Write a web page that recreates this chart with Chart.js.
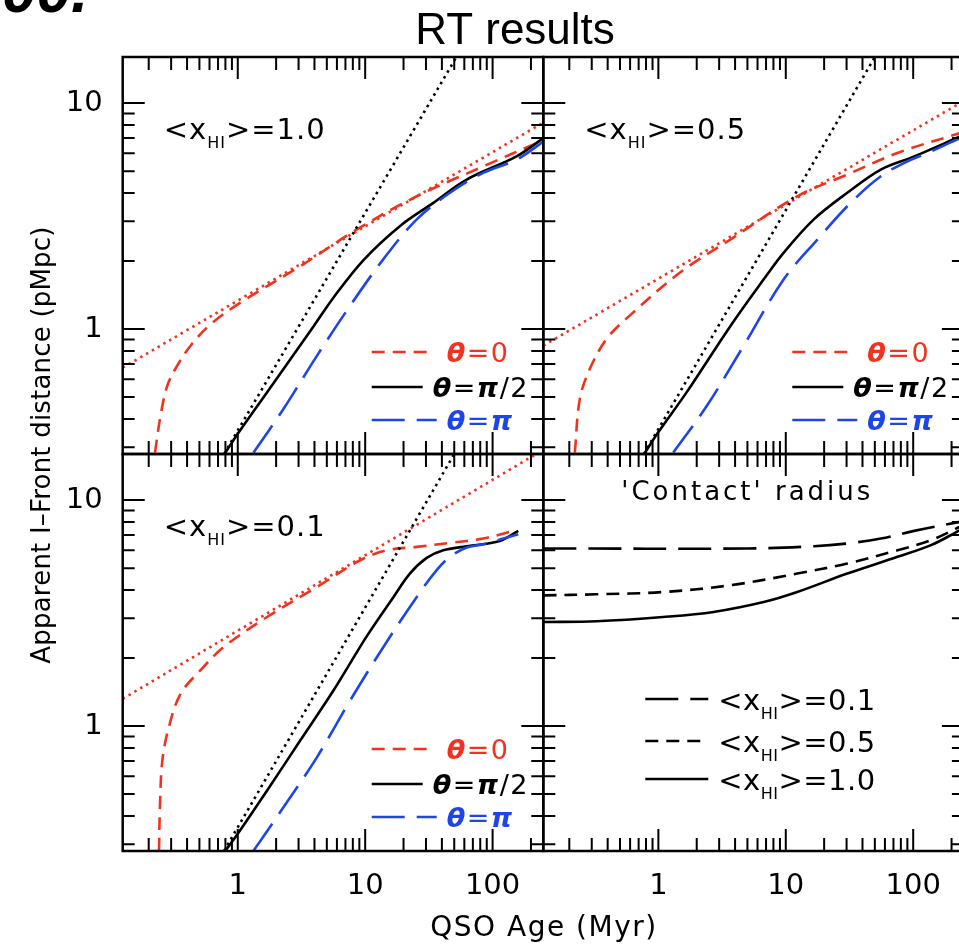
<!DOCTYPE html>
<html><head><meta charset="utf-8">
<script src="https://cdn.jsdelivr.net/npm/chart.js@4.4.1/dist/chart.umd.min.js"></script>
<style>
html,body{margin:0;padding:0;background:#fff;overflow:hidden;width:959px;height:945px}
#wrap{position:relative;width:970px;height:945px}
canvas{position:absolute;left:0;top:0}
</style></head><body><div id="wrap">
<canvas id="c0" width="970" height="945"></canvas>
<canvas id="c1" width="970" height="945"></canvas>
<canvas id="c2" width="970" height="945"></canvas>
<canvas id="c3" width="970" height="945"></canvas>
</div>
<script>
// ---------------- data ----------------
const ageMin = 0.125, ageMax = 250;      // QSO age axis (Myr)
const distMin = 0.28, distMax = 16;      // I-front distance axis (pMpc)
const xTickLabels = ['1', '10', '100'];
const yTickLabels = ['1', '10'];

// panel <xHI>=1.0
const p1_theta0_age  = [0.224, 0.248, 0.280, 0.335, 0.426, 0.611, 1.05, 3.10, 8.61, 25.4, 84.4, 250];
const p1_theta0_r    = [0.284, 0.415, 0.562, 0.689, 0.844, 1.05, 1.31, 1.90, 2.76, 3.87, 5.25, 6.85];
const p1_theta90_age = [0.80, 1.0, 1.70, 3.94, 5.65, 9.70, 18.8, 34.3, 62.6, 154, 250];
const p1_theta90_r   = [0.284, 0.344, 0.526, 1.03, 1.38, 2.02, 2.86, 3.62, 4.59, 5.81, 7.0];
const p1_theta180_age= [1.33, 2.29, 4.19, 7.63, 13.9, 25.4, 46.3, 84.4, 154, 250];
const p1_theta180_r  = [0.284, 0.444, 0.763, 1.27, 2.04, 3.06, 4.01, 4.91, 5.62, 6.75];
const p1_slow_age    = [0.125, 250];
const p1_slow_r      = [0.675, 8.2];
const p1_fast_age    = [0.78, 52];
const p1_fast_r      = [0.28, 16];

// panel <xHI>=0.5
const p2_theta0_age  = [0.221, 0.242, 0.290, 0.392, 0.598, 1.48, 3.67, 12.3, 30.4, 75.3, 233];
const p2_theta0_r    = [0.284, 0.491, 0.667, 0.904, 1.15, 1.78, 2.49, 3.87, 4.83, 6.02, 7.37];
const p2_theta90_age = [0.786, 1.0, 1.67, 3.67, 6.71, 9.64, 16.6, 30.4, 55.7, 102, 233];
const p2_theta90_r   = [0.284, 0.350, 0.526, 1.03, 1.66, 2.18, 3.06, 4.01, 5.08, 5.81, 7.12];
const p2_theta180_age= [1.31, 2.41, 4.67, 9.64, 17.7, 32.3, 55.7, 90.3, 138, 233];
const p2_theta180_r  = [0.284, 0.459, 0.844, 1.66, 2.49, 3.62, 4.75, 5.53, 6.12, 7.01];
const p2_slow_age    = [0.125, 233];
const p2_slow_r      = [0.845, 10.0];
const p2_fast_age    = [0.77, 50];
const p2_fast_r      = [0.28, 16];

// panel <xHI>=0.1
const p3_theta0_age  = [0.241, 0.245, 0.256, 0.288, 0.356, 0.511, 0.778, 1.70, 4.19, 9.14, 14.8, 25.4, 46.3, 84.4, 137];
const p3_theta0_r    = [0.28, 0.438, 0.705, 0.99, 1.39, 1.77, 2.24, 3.04, 4.13, 5.42, 6.0, 6.21, 6.47, 6.76, 7.24];
const p3_theta90_age = [0.80, 1.0, 1.70, 3.10, 5.65, 10.3, 16.7, 22.5, 30.4, 41.0, 62.6, 114, 159];
const p3_theta90_r   = [0.281, 0.334, 0.519, 0.865, 1.44, 2.50, 3.73, 4.74, 5.55, 6.0, 6.25, 6.60, 7.31];
const p3_theta180_age= [1.33, 2.29, 4.19, 7.63, 13.9, 25.4, 36.4, 46.3, 62.6, 84.4, 159];
const p3_theta180_r  = [0.281, 0.438, 0.729, 1.30, 2.24, 3.73, 4.90, 5.61, 6.17, 6.38, 7.07];
const p3_slow_age    = [0.125, 220];
const p3_slow_r      = [1.32, 16];
const p3_fast_age    = [0.78, 50];
const p3_fast_r      = [0.28, 16];

// panel 'Contact' radius
const c01_age = [0.125, 4.97, 16.6, 30.4, 55.7, 102, 233];
const c01_r   = [6.11, 6.11, 6.25, 6.43, 6.76, 7.31, 8.01];
const c05_age = [0.125, 0.327, 1.09, 3.67, 12.3, 30.4, 75.3, 138, 233];
const c05_r   = [3.79, 3.83, 3.92, 4.20, 4.73, 5.24, 6.0, 6.65, 7.62];
const c10_age = [0.125, 0.327, 1.09, 2.71, 6.71, 12.3, 30.4, 75.3, 138, 233];
const c10_r   = [2.89, 2.91, 3.04, 3.20, 3.54, 3.92, 4.73, 5.61, 6.32, 7.36];

// ---------------- styling / layout ----------------
const W = 970, H = 945;
const RED = '#f0321e', BLUE = '#1e46e6', BLACK = '#000';
const COLS = [122.7, 543.3, 963.9];
const ROWS = [57, 454, 851];
const FONT = '"DejaVu Sans", sans-serif';
const DASH_SHORT = [13, 8], DASH_LONG = [33, 12], DOT = [2.5, 4.2];

function pts(xs, ys) { return xs.map((x, i) => ({x: x, y: ys[i]})); }
function ds(xs, ys, color, dash) {
  return {data: pts(xs, ys), borderColor: color, borderDash: dash || [], borderWidth: 2.6,
          pointRadius: 0, fill: false, tension: 0.35};
}

function richText(ctx, x, y, segs, align, spacing) {
  ctx.letterSpacing = (spacing || 0) + 'px';
  let total = 0;
  segs.forEach(s => { ctx.font = s.font; s.w = ctx.measureText(s.t).width; total += s.w; });
  let cx = align === 'center' ? x - total / 2 : (align === 'right' ? x - total : x);
  ctx.textAlign = 'left'; ctx.textBaseline = 'alphabetic';
  segs.forEach(s => { ctx.font = s.font; ctx.fillStyle = s.c || '#000'; ctx.fillText(s.t, cx, y + (s.dy || 0)); cx += s.w; });
  ctx.letterSpacing = '0px';
}

function xhiSegs(val, size) {
  return [
    {t: '<x', font: size + 'px ' + FONT},
    {t: 'HI', font: Math.round(size * 0.56) + 'px ' + FONT, dy: 9},
    {t: '>=' + val, font: size + 'px ' + FONT}
  ];
}
function thetaSegs(rest, color) {
  const g = 'italic bold 27px ' + FONT, n = '27px ' + FONT;
  const segs = [{t: 'θ', font: g, c: color}, {t: '=', font: n, c: color}];
  rest.forEach(r => segs.push({t: r.t, font: r.g ? g : n, c: color}));
  return segs;
}

function makePanel(id, col, row, datasets, deco) {
  const rect = {l: COLS[col], r: COLS[col + 1], t: ROWS[row], b: ROWS[row + 1]};
  const plug = {
    id: 'idlFrame' + id,
    afterDraw(chart) {
      const ctx = chart.ctx, a = chart.chartArea, xs = chart.scales.x, ys = chart.scales.y;
      ctx.save();
      ctx.strokeStyle = '#000'; ctx.lineWidth = 2; ctx.setLineDash([]);
      ctx.beginPath();
      for (let d = -1; d <= 2; d++) for (let m = 1; m <= 9; m++) {
        const v = m * Math.pow(10, d);
        if (v < ageMin || v > ageMax) continue;
        const p = xs.getPixelForValue(v), len = m === 1 ? 22 : 13;
        ctx.moveTo(p, a.bottom); ctx.lineTo(p, a.bottom - len);
        ctx.moveTo(p, a.top); ctx.lineTo(p, a.top + len);
      }
      for (let d = -1; d <= 1; d++) for (let m = 1; m <= 9; m++) {
        const v = m * Math.pow(10, d);
        if (v < distMin || v > distMax) continue;
        const p = ys.getPixelForValue(v), len = m === 1 ? 22 : 12;
        ctx.moveTo(a.left, p); ctx.lineTo(a.left + len, p);
        ctx.moveTo(a.right, p); ctx.lineTo(a.right - len, p);
      }
      ctx.stroke();
      ctx.lineWidth = 2.5;
      ctx.strokeRect(a.left, a.top, a.right - a.left, a.bottom - a.top);
      ctx.fillStyle = '#000';
      ctx.font = '29px ' + FONT;
      if (col === 0) {
        ctx.textAlign = 'right'; ctx.textBaseline = 'middle';
        yTickLabels.forEach(t => ctx.fillText(t, a.left - 20, ys.getPixelForValue(parseFloat(t))));
      }
      if (row === 1) {
        ctx.textAlign = 'center'; ctx.textBaseline = 'middle';
        xTickLabels.forEach(t => ctx.fillText(t, xs.getPixelForValue(parseFloat(t)), a.bottom + 35));
      }
      deco(ctx, a);
      ctx.restore();
    }
  };
  return new Chart(document.getElementById(id), {
    type: 'line',
    data: {datasets: datasets},
    options: {
      responsive: false, animation: false, devicePixelRatio: 1,
      layout: {padding: {left: rect.l, top: rect.t, right: W - rect.r, bottom: H - rect.b}},
      plugins: {legend: {display: false}, tooltip: {enabled: false}, title: {display: false}},
      scales: {
        x: {type: 'logarithmic', min: ageMin, max: ageMax, display: false},
        y: {type: 'logarithmic', min: distMin, max: distMax, display: false}
      }
    },
    plugins: [plug]
  });
}

function thetaLegend(ctx, a) {
  const L = a.left + 249, T = a.top;
  ctx.lineWidth = 2.6;
  const rows = [
    {y: 295, c: RED, dash: DASH_SHORT, len: 60, tx: 75, segs: thetaSegs([{t: '0'}], RED)},
    {y: 330, c: BLACK, dash: [], len: 51, tx: 61, segs: thetaSegs([{t: 'π', g: true}, {t: '/2'}], BLACK)},
    {y: 363, c: BLUE, dash: DASH_LONG, len: 65, tx: 75, segs: thetaSegs([{t: 'π', g: true}], BLUE)}
  ];
  rows.forEach(r => {
    ctx.strokeStyle = r.c; ctx.setLineDash(r.dash);
    ctx.beginPath(); ctx.moveTo(L, T + r.y); ctx.lineTo(L + r.len, T + r.y); ctx.stroke();
    ctx.setLineDash([]);
    richText(ctx, L + r.tx, T + r.y + 10, r.segs, 'left', 1.5);
  });
}

function rtPanel(id, col, row, label, a0, r0, a90, r90, a180, r180, aS, rS, aF, rF) {
  return makePanel(id, col, row, [
    ds(aF, rF, BLACK, DOT),
    ds(aS, rS, RED, DOT),
    ds(a180, r180, BLUE, DASH_LONG),
    ds(a90, r90, BLACK, []),
    ds(a0, r0, RED, DASH_SHORT)
  ], (ctx, a) => {
    richText(ctx, a.left + 41, a.top + 82, xhiSegs(label, 29), 'left', 1);
    thetaLegend(ctx, a);
  });
}

rtPanel('c0', 0, 0, '1.0', p1_theta0_age, p1_theta0_r, p1_theta90_age, p1_theta90_r,
        p1_theta180_age, p1_theta180_r, p1_slow_age, p1_slow_r, p1_fast_age, p1_fast_r);
rtPanel('c1', 1, 0, '0.5', p2_theta0_age, p2_theta0_r, p2_theta90_age, p2_theta90_r,
        p2_theta180_age, p2_theta180_r, p2_slow_age, p2_slow_r, p2_fast_age, p2_fast_r);
rtPanel('c2', 0, 1, '0.1', p3_theta0_age, p3_theta0_r, p3_theta90_age, p3_theta90_r,
        p3_theta180_age, p3_theta180_r, p3_slow_age, p3_slow_r, p3_fast_age, p3_fast_r);

makePanel('c3', 1, 1, [
  ds(c01_age, c01_r, BLACK, DASH_LONG),
  ds(c05_age, c05_r, BLACK, DASH_SHORT),
  ds(c10_age, c10_r, BLACK, [])
], (ctx, a) => {
  richText(ctx, a.left + 204, a.top + 46, [{t: "'Contact' radius", font: '26px ' + FONT}], 'center', 3);
  const L = a.left + 102;
  const rows = [
    {y: 245, dash: DASH_LONG, v: '0.1'},
    {y: 287, dash: DASH_SHORT, v: '0.5'},
    {y: 325, dash: [], v: '1.0'}
  ];
  ctx.strokeStyle = '#000'; ctx.lineWidth = 2.6;
  rows.forEach(r => {
    ctx.setLineDash(r.dash);
    ctx.beginPath(); ctx.moveTo(L, a.top + r.y); ctx.lineTo(L + 63, a.top + r.y); ctx.stroke();
    ctx.setLineDash([]);
    richText(ctx, L + 73, a.top + r.y + 11, xhiSegs(r.v, 29), 'left', 0.5);
  });

  // figure-level texts
  ctx.fillStyle = '#000';
  ctx.textAlign = 'center'; ctx.textBaseline = 'alphabetic';
  ctx.font = '44px "Liberation Sans", Arial, sans-serif';
  ctx.fillText('RT results', 515, 44);
  ctx.font = 'italic bold 62px "Liberation Sans", Arial, sans-serif';
  ctx.textAlign = 'left';
  ctx.fillText('00.', 2, 12);
  richText(ctx, 544, 936, [{t: 'QSO Age (Myr)', font: '28px ' + FONT}], 'center', 1.5);
  ctx.save();
  ctx.translate(50, 445);
  ctx.rotate(-Math.PI / 2);
  richText(ctx, 0, 0, [{t: 'Apparent I\u2013Front distance (pMpc)', font: '26px ' + FONT}], 'center', 0.2);
  ctx.restore();
});
</script>
</body></html>
